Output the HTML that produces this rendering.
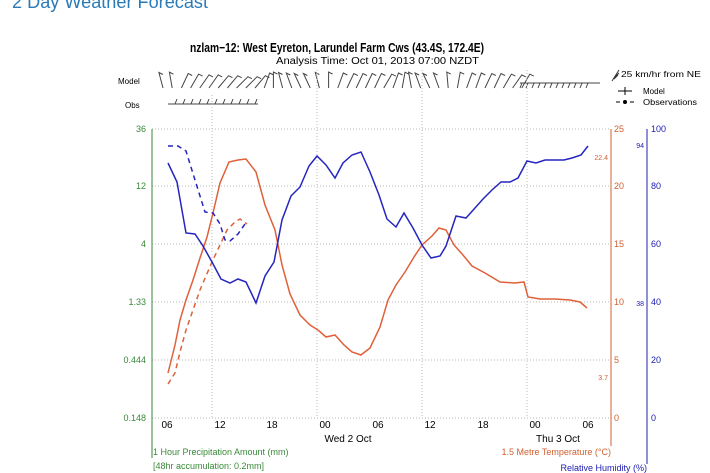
<!DOCTYPE html>
<html><head><meta charset="utf-8"><style>
html,body{margin:0;padding:0;background:#fff;width:710px;height:473px;overflow:hidden}
svg{display:block;font-family:"Liberation Sans",sans-serif}
</style></head><body>
<svg width="710" height="473" viewBox="0 0 710 473">
<text x="12" y="8" font-size="18" fill="#2a7ab8" textLength="196" lengthAdjust="spacingAndGlyphs">2 Day Weather Forecast</text>
<text x="190" y="52" font-size="13" font-weight="bold" fill="#000" textLength="294" lengthAdjust="spacingAndGlyphs">nzlam−12: West Eyreton, Larundel Farm Cws (43.4S, 172.4E)</text>
<text x="276" y="64" font-size="10" fill="#000" textLength="203" lengthAdjust="spacingAndGlyphs">Analysis Time: Oct 01, 2013 07:00 NZDT</text>
<text x="118" y="84" font-size="8" fill="#000">Model</text>
<text x="125" y="108" font-size="8" fill="#000">Obs</text>
<g id="barbs" stroke="#444" stroke-width="1" fill="none"></g>
<path d="M612,81 l7,-11 M615,77 l4,-4 M614,79 l4,-4" stroke="#333" fill="none"/>
<text x="621" y="77" font-size="8" textLength="80" lengthAdjust="spacingAndGlyphs">25 km/hr from NE</text>
<path d="M618,91 h14 M625,87 v8" stroke="#000"/>
<text x="643" y="94" font-size="8">Model</text>
<path d="M616,102 h4 M630,102 h4" stroke="#000"/><circle cx="625" cy="102" r="2"/>
<text x="643" y="105" font-size="8" textLength="54" lengthAdjust="spacingAndGlyphs">Observations</text>
<!-- grid -->
<g stroke="#bbb" stroke-dasharray="1,2" stroke-width="1">
<line x1="152" y1="129" x2="611" y2="129"/><line x1="152" y1="186" x2="611" y2="186"/><line x1="152" y1="244" x2="611" y2="244"/><line x1="152" y1="302" x2="611" y2="302"/><line x1="152" y1="360" x2="611" y2="360"/><line x1="152" y1="418" x2="611" y2="418"/>
<line x1="212" y1="95" x2="212" y2="418"/><line x1="317" y1="70" x2="317" y2="418"/><line x1="422" y1="70" x2="422" y2="418"/><line x1="527" y1="70" x2="527" y2="418"/>
</g>
<!-- axes -->
<line x1="152" y1="129" x2="152" y2="458" stroke="#3a8a3a"/>
<line x1="611" y1="129" x2="611" y2="446" stroke="#d06030"/>
<line x1="647" y1="129" x2="647" y2="464" stroke="#2020b0"/>
<g font-size="9" fill="#3a8a3a" text-anchor="end">
<text x="146" y="132">36</text><text x="146" y="189">12</text><text x="146" y="247">4</text><text x="146" y="305">1.33</text><text x="146" y="363">0.444</text><text x="146" y="421">0.148</text></g>
<g font-size="9" fill="#d06030">
<text x="614" y="132">25</text><text x="614" y="189">20</text><text x="614" y="247">15</text><text x="614" y="305">10</text><text x="614" y="363">5</text><text x="614" y="421">0</text>
<text x="608" y="160" text-anchor="end" font-size="7">22.4</text><text x="608" y="380" text-anchor="end" font-size="7">3.7</text></g>
<g font-size="9" fill="#2020b0">
<text x="651" y="132">100</text><text x="651" y="189">80</text><text x="651" y="247">60</text><text x="651" y="305">40</text><text x="651" y="363">20</text><text x="651" y="421">0</text>
<text x="644" y="148" text-anchor="end" font-size="7">94</text><text x="644" y="306" text-anchor="end" font-size="7">38</text></g>
<g font-size="10" fill="#000" text-anchor="middle">
<text x="167" y="428">06</text><text x="220" y="428">12</text><text x="272" y="428">18</text><text x="325" y="428">00</text><text x="378" y="428">06</text><text x="430" y="428">12</text><text x="483" y="428">18</text><text x="535" y="428">00</text><text x="588" y="428">06</text>
<text x="348" y="442">Wed 2 Oct</text><text x="558" y="442">Thu 3 Oct</text></g>
<text x="153" y="455" font-size="9" fill="#3a8a3a">1 Hour Precipitation Amount (mm)</text>
<text x="153" y="469" font-size="9" fill="#3a8a3a">[48hr accumulation: 0.2mm]</text>
<text x="611" y="455" font-size="9" fill="#d06030" text-anchor="end">1.5 Metre Temperature (°C)</text>
<text x="647" y="471" font-size="9" fill="#2020b0" text-anchor="end">Relative Humidity (%)</text>
<!-- series -->
<polyline fill="none" stroke="#e0603a" stroke-width="1.5" points="168,373 175,345 180,320 186,300 193,280 200,258 207,237 213,213 220,183 229,162 238,160 246,159 256,172 265,205 275,230 282,265 290,294 300,315 310,325 318,330 326,337 335,335 344,345 352,352 361,355 370,348 380,327 388,300 396,285 405,272 414,257 422,245 432,236 439,228 446,230 454,245 463,255 472,266 485,273 500,282 515,283 524,282 528,297 540,299 555,299 570,300 580,302 587,308"/>
<polyline fill="none" stroke="#e0603a" stroke-width="1.5" stroke-dasharray="5,4" points="168,384 175,373 180,352 186,330 193,310 200,290 212,262 220,245 227,230 235,222 240,219 247,224"/>
<polyline fill="none" stroke="#2525c0" stroke-width="1.5" points="168,163 177,182 186,233 195,234 203,246 212,262 221,279 230,283 238,279 246,282 256,303 265,276 274,262 282,220 291,196 300,187 309,166 317,156 326,165 335,178 343,163 352,155 361,152 370,172 379,195 387,219 396,227 404,213 413,228 422,245 431,258 440,256 446,246 456,216 466,218 475,208 483,199 492,190 501,182 510,182 518,178 527,161 536,163 545,160 555,160 564,160 572,158 581,155 588,146"/>
<polyline fill="none" stroke="#2525c0" stroke-width="1.5" stroke-dasharray="5,4" points="168,146 178,146 186,151 195,180 205,212 213,213 220,224 225,240 230,241 238,234 245,224"/>
</svg>
<script>
var g=document.getElementById('barbs'),s='';
var ang=[-15,-10,25,30,35,35,40,40,45,45,40,20,0,-15,-20,-25,-25,-15,0,20,25,25,25,25,30,20,10,-10,-20,-25,-20,-5,10,20,20,25,25,30,35,30];
for(var i=0;i<40;i++){var x=163+i*9.2,a=ang[i]*Math.PI/180;
var dx=Math.sin(a)*16,dy=Math.cos(a)*16;
s+='<path d="M'+x+',88 l'+dx.toFixed(1)+',-'+dy.toFixed(1)+' l4,2"/>';}
s+='<path d="M520,83 h80"/>';
for(var j=0;j<12;j++){var x2=522+j*6;s+='<path d="M'+x2+',83 l-2,5"/>';}
s+='<path d="M168,104 h90"/>';
for(var k=0;k<11;k++){var x3=175+k*8;s+='<path d="M'+x3+',104 l2,-5"/>';}
g.innerHTML=s;
</script>
</body></html>
